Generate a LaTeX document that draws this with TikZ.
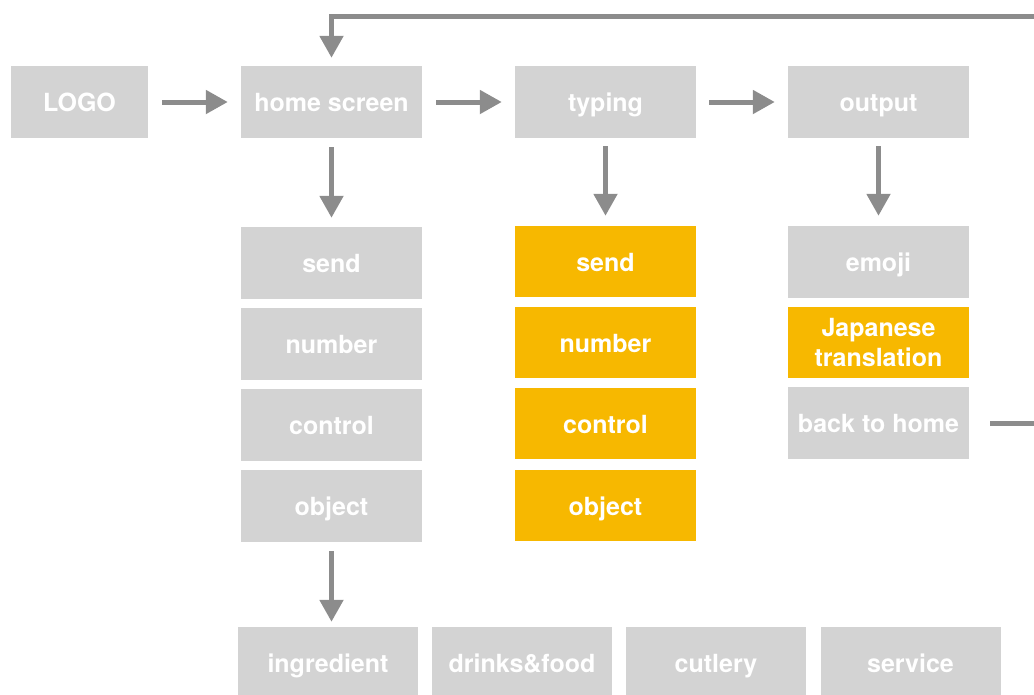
\documentclass[tikz,border=0pt]{standalone}
\usepackage{fontspec}
\setmainfont{TeX Gyre Heros}
\usetikzlibrary{arrows.meta}
\definecolor{boxgrey}{HTML}{D3D3D3}
\definecolor{boxorange}{HTML}{F7B800}
\definecolor{arrowgrey}{HTML}{8C8C8C}
\tikzset{
  basebox/.style={fill=boxgrey, draw=none, text=white, font=\fontsize{25}{30}\selectfont\bfseries, minimum width=181pt, minimum height=72pt, inner sep=0pt, align=center},
  gbox/.style={basebox, text height=19pt, text depth=0pt},
  obox/.style={gbox, fill=boxorange, minimum height=71pt},
  flow/.style={draw=arrowgrey, line width=5pt, -{Triangle[width=23pt,length=22pt]}},
}
\begin{document}
\begin{tikzpicture}[x=1pt,y=-1pt]
\useasboundingbox (0,0) rectangle (1034,694);
\clip (0,0) rectangle (1034,694);
% top row
\node[gbox, minimum width=137pt] (logo) at (79.5,102) {LOGO};
\node[gbox] (home) at (331.5,102) {home screen};
\node[gbox] (typing) at (605.5,102) {typing};
\node[gbox] (output) at (878.5,102) {output};
% home column
\node[gbox] (hsend) at (331.5,263) {send};
\node[gbox] (hnumber) at (331.5,344) {number};
\node[gbox] (hcontrol) at (331.5,425) {control};
\node[gbox] (hobject) at (331.5,506) {object};
% typing column
\node[obox] (tsend) at (605.5,261.5) {send};
\node[obox] (tnumber) at (605.5,342.5) {number};
\node[obox] (tcontrol) at (605.5,423.5) {control};
\node[obox] (tobject) at (605.5,505.5) {object};
% output column
\node[gbox] (emoji) at (878.5,262) {emoji};
\node[basebox, fill=boxorange, minimum height=71pt] (jap) at (878.5,342.5) {Japanese\\translation};
\node[gbox] (back) at (878.5,423) {back to home};
% bottom row
\node[gbox, minimum width=180pt] (ingr) at (328,663) {ingredient};
\node[gbox, minimum width=180pt] (drinks) at (522,663) {drinks\&food};
\node[gbox, minimum width=180pt] (cutlery) at (716,663) {cutlery};
\node[gbox, minimum width=180pt] (service) at (910.5,663) {service};
% coordinates for the return loop
\coordinate (r1) at (1060,423);
\coordinate (r2) at (1060,16);
\coordinate (r3) at (331.5,16);
% arrows
\draw[flow, shorten <=14pt, shorten >=13pt] (logo) -- (home);
\draw[flow, shorten <=14pt, shorten >=13pt] (home) -- (typing);
\draw[flow, shorten <=13pt, shorten >=13pt] (typing) -- (output);
\draw[flow, shorten <=9pt, shorten >=9pt] (home) -- (hsend);
\draw[flow, shorten <=8pt, shorten >=10pt] (typing) -- (tsend);
\draw[flow, shorten <=8pt, shorten >=10pt] (output) -- (emoji);
\draw[flow, shorten <=9pt, shorten >=5pt] (hobject.south) -- (hobject.south |- ingr.north);
\draw[flow, shorten <=21pt, shorten >=8pt] (back.east) -- (r1) -- (r2) -- (r3) -- (home.north);
\end{tikzpicture}
\end{document}
